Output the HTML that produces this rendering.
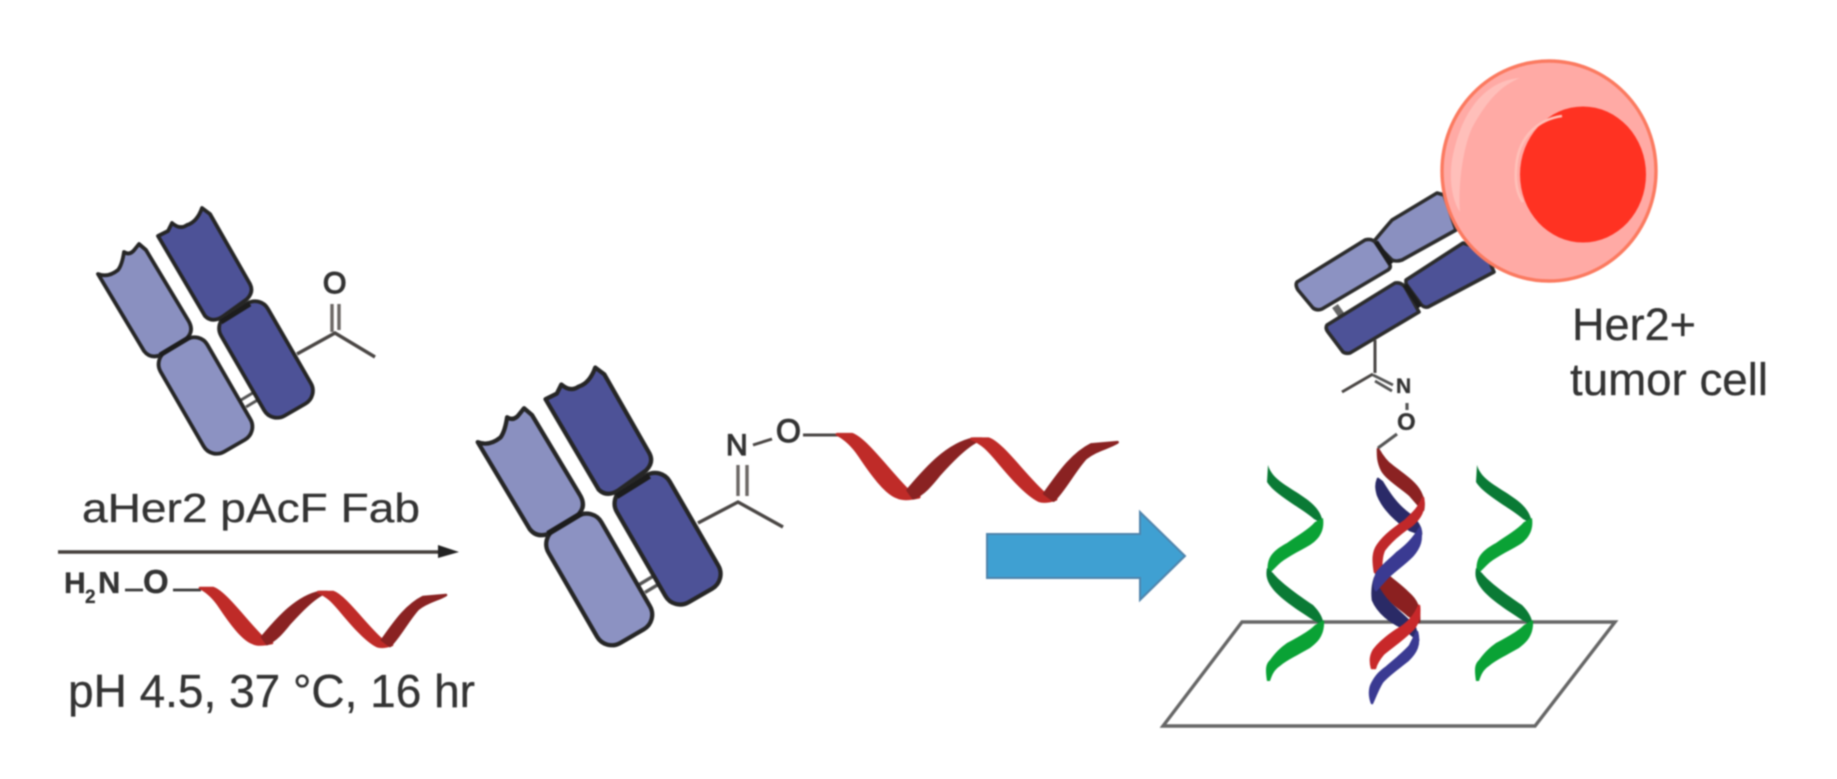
<!DOCTYPE html>
<html><head><meta charset="utf-8">
<style>
html,body{margin:0;padding:0;background:#fff;width:1837px;height:779px;overflow:hidden}
svg{display:block;filter:blur(.85px)}
text{font-family:"Liberation Sans",sans-serif;fill:#333;stroke:#333;stroke-width:.3}
.h path{stroke-width:2.6;stroke-linejoin:round}
</style></head><body>
<svg width="1837" height="779" viewBox="0 0 1837 779" xmlns="http://www.w3.org/2000/svg">
<defs>
<g id="fab" stroke="#262626" stroke-width="3.8" stroke-linejoin="round">
  <path d="M241,400 L256,391 M246,407 L261,398" fill="none" stroke="#555" stroke-width="3"/>
  <path d="M98,274 Q108,278 118,270 Q122,265 124,252 Q130,256 135,249 L139,244 L146,250 L188,320 Q195,331 186,339 L163,354 Q151,360 144,351 Z" fill="#8a90c0"/>
  <path d="M158,236 L168,231 L172,223 Q180,230 187,225 Q197,222 202,208 L210,214 L250,284 Q254,292 247,299 L222,317 Q212,323 205,316 Z" fill="#4d5297"/>
  <rect x="147.5" y="368.5" width="116" height="54" rx="15" transform="rotate(60 205.5 395.5)" fill="#8c92c2"/>
  <rect x="208" y="332.5" width="116" height="54" rx="15" transform="rotate(60 266 359.5)" fill="#4d5297"/>
  <path d="M160,355 L190,337 M221,322 L250,304" fill="none" stroke="#1c1c1c" stroke-width="5"/>
</g>
<g id="ribbon" class="h">
  <path d="M200,588 L213,588 C225,592 245,620 262,637 L272,643 Q258,646 253,643 C243,640 230,622 220,607 C214,598 208,592 200,588Z" fill="#bf2b28" stroke="#bf2b28"/>
  <path d="M262,637 C275,622 295,597 320,592 L327,592 C315,596 300,612 290,623 C282,633 276,640 267,644Z" fill="#8a2222" stroke="#8a2222"/>
  <path d="M318,592 L333,592 C345,596 365,625 382,640 L392,645 Q382,648 377,646 C365,640 350,622 340,610 C333,602 328,596 318,592Z" fill="#bf2b28" stroke="#bf2b28"/>
  <path d="M382,640 C393,625 405,606 423,597 L446,595 C438,600 428,601 418,609 C408,620 400,636 390,646Z" fill="#8a2222" stroke="#8a2222"/>
</g>
<g id="green">
  <path d="M1268,465 C1272,480 1290,487 1305,498 C1318,507 1322,515 1323,524 L1314,519 C1300,507 1275,495 1267,482 Z" fill="#0a7a35"/>
  <path d="M1323,518 C1325,532 1318,540 1310,545 C1298,552 1285,558 1278,565 L1268,575 C1266,560 1270,552 1287,543 C1298,535 1308,530 1315,522Z" fill="#0aa235"/>
  <path d="M1267,568 L1273,573 C1280,582 1298,595 1313,605 C1320,612 1323,618 1324,626 L1313,620 C1298,610 1278,598 1270,585 C1266,578 1266,574 1267,568Z" fill="#0a7a35"/>
  <path d="M1324,620 C1325,635 1318,642 1310,648 C1298,655 1287,660 1280,666 C1274,670 1272,675 1270,681 L1267,681 C1265,668 1266,664 1270,660 C1276,652 1280,648 1287,643 C1298,637 1308,632 1315,625Z" fill="#0aa235"/>
</g>
</defs>

<!-- first Fab -->
<use href="#fab"/>
<path d="M297,354 L335,333 L375,357" fill="none" stroke="#4a4644" stroke-width="3.4"/>
<path d="M332,304 V332 M339,304 V330" fill="none" stroke="#6a6664" stroke-width="3.4"/>
<text x="323" y="293" font-size="30" style="stroke-width:1.4">O</text>

<!-- reaction arrow -->
<text x="82" y="522" font-size="41" textLength="338" lengthAdjust="spacingAndGlyphs">aHer2 pAcF Fab</text>
<path d="M58,552 H445" stroke="#443f3c" stroke-width="3.6" fill="none"/>
<path d="M438,545 L459,552 L438,558 Z" fill="#222"/>
<text x="64" y="593" font-size="30" font-weight="bold">H</text>
<text x="85" y="603" font-size="19" font-weight="bold">2</text>
<text x="98" y="593" font-size="31" font-weight="bold">N</text>
<path d="M125,590 H143 M173,590 H201" stroke="#3a3a3a" stroke-width="2.8" fill="none"/>
<text x="143" y="593" font-size="33" font-weight="bold">O</text>
<use href="#ribbon"/>
<text x="68" y="707" font-size="46" textLength="407" lengthAdjust="spacingAndGlyphs">pH 4.5, 37 °C, 16 hr</text>

<!-- second Fab -->
<use href="#fab" transform="translate(367 132.5) scale(1.13)"/>
<path d="M698,523 L738,502 L783,527" fill="none" stroke="#4a4644" stroke-width="3.4"/>
<path d="M738,465 V496 M747,465 V496" fill="none" stroke="#6a6664" stroke-width="3.4"/>
<text x="726" y="455" font-size="30" style="stroke-width:1.2">N</text>
<path d="M753,445 L772,439 M803,435 H838" fill="none" stroke="#4a4644" stroke-width="3"/>
<text x="776" y="442" font-size="32" style="stroke-width:1.2">O</text>
<use href="#ribbon" transform="translate(609 -236) scale(1.14)"/>

<!-- blue arrow -->
<path d="M987,534 H1140 V512 L1185,556 L1140,600 V578 H987 Z" fill="#3fa0d2" stroke="#4f84ac" stroke-width="2"/>

<!-- plate -->
<path d="M1242,622 H1615 L1535,726 H1163 Z" fill="none" stroke="#666" stroke-width="3.4"/>

<!-- green strands -->
<use href="#green"/>
<use href="#green" transform="translate(209 0)"/>

<!-- double helix -->
<g class="h">
<path d="M1378,479 L1382,482 C1388,492 1396,505 1410,515 C1418,522 1421,528 1421,534 L1410,530 C1398,522 1384,510 1378,495 C1376,488 1376,484 1378,479Z" fill="#2a2a68" stroke="#2a2a68"/>
<path d="M1375,578 L1380,590 C1390,607 1405,615 1415,628 L1418,640 L1404,628 C1390,622 1378,612 1373,600 C1372,592 1373,584 1375,578Z" fill="#2a2a66" stroke="#2a2a66"/>
<path d="M1417,632 C1420,645 1416,652 1408,660 C1398,668 1388,675 1382,682 C1377,690 1375,697 1372,703 C1369,695 1370,688 1372,684 C1376,676 1380,672 1387,667 C1395,660 1405,652 1410,646Z" fill="#3a3a92" stroke="#3a3a92"/>
<path d="M1385,573 C1392,580 1400,585 1408,593 C1416,600 1420,607 1419,622 L1408,615 C1400,607 1390,605 1378,582Z" fill="#8b2020" stroke="#8b2020"/>
<path d="M1378,449 C1382,456 1386,462 1392,466 C1402,474 1415,482 1420,492 C1424,500 1424,505 1423,510 L1410,495 C1402,488 1386,478 1382,470 C1378,462 1378,456 1378,449Z" fill="#8b2222" stroke="#8b2222"/>
<path d="M1423,498 C1425,510 1420,518 1412,525 C1400,533 1390,542 1384,550 C1381,556 1381,565 1381,578 L1375,572 C1373,560 1373,552 1378,545 C1385,535 1395,528 1405,521 C1412,514 1418,510 1423,498Z" fill="#c0282a" stroke="#c0282a"/>
<path d="M1420,528 C1422,540 1420,547 1412,556 C1402,566 1392,572 1385,580 L1376,590 C1373,584 1375,578 1377,573 C1383,565 1390,560 1397,553 C1405,547 1413,540 1420,528Z" fill="#3a3a92" stroke="#3a3a92"/>
<path d="M1419,606 C1420,616 1418,624 1412,630 C1402,640 1390,648 1383,654 C1378,660 1376,664 1375,668 L1372,668 C1370,660 1371,655 1374,650 C1380,642 1388,636 1397,630 C1406,625 1414,618 1419,606Z" fill="#c8282a" stroke="#c8282a"/>
</g>

<!-- third antibody -->
<path d="M1335,306 L1342,316" stroke="#666" stroke-width="7" fill="none"/>
<g stroke="#2c2c2c" stroke-width="3.6" stroke-linejoin="round">
  <path d="M1406,280 L1463,243 L1485,250 L1494,272 L1428,307 Q1423,308 1420,303 L1406,284Z" fill="#4d5297"/>
  <path d="M1375,240 Q1385,228 1392,220 L1437,193 L1444,195 L1456,230 L1402,260 Q1396,262 1392,260 L1376,244Z" fill="#8a90c0"/>
  <path d="M1297,282 L1365,240 Q1372,238 1376,243 L1390,265 Q1391,268 1388,270 L1322,309 Q1317,311 1313,308 L1298,290 Q1295,285 1297,282Z" fill="#8c92c2"/>
  <path d="M1327,325 L1395,283 Q1401,282 1405,287 L1419,312 L1350,353 Q1346,354 1343,352 L1328,332 Q1325,328 1327,325Z" fill="#4d5297"/>
</g>
<path d="M1376,242 L1391,264 M1405,285 L1420,307" stroke="#1c1c1c" stroke-width="5" fill="none"/>
<path d="M1375,340 V373 M1373,374 L1342,392" fill="none" stroke="#4a4644" stroke-width="3"/>
<path d="M1373,375 L1393,385 M1375,381 L1392,391" fill="none" stroke="#555" stroke-width="2.8"/>
<text x="1396" y="393" font-size="21" font-weight="bold">N</text>
<path d="M1407,403 V410 M1397,434 L1378,448" fill="none" stroke="#555" stroke-width="3.2"/>
<text x="1397" y="430" font-size="24" font-weight="bold">O</text>

<!-- cell -->
<ellipse cx="1549" cy="171" rx="107" ry="110" fill="#ffaaa5" stroke="#fb7a60" stroke-width="3.4"/>
<path d="M1520,78 C1490,80 1462,105 1452,160 C1449,180 1452,200 1460,212 C1458,190 1462,150 1472,128 C1487,100 1502,85 1520,78Z" fill="#ffbfba"/>
<ellipse cx="1583" cy="174.5" rx="63" ry="68" fill="#ff3222"/>
<path d="M1562,116 C1535,120 1517,140 1516,170 C1515,185 1518,195 1523,202" fill="none" stroke="#ffc0b8" stroke-width="2.6"/>

<text x="1572" y="340" font-size="45" textLength="124" lengthAdjust="spacingAndGlyphs">Her2+</text>
<text x="1570" y="395" font-size="45" textLength="198" lengthAdjust="spacingAndGlyphs">tumor cell</text>
</svg>
</body></html>
